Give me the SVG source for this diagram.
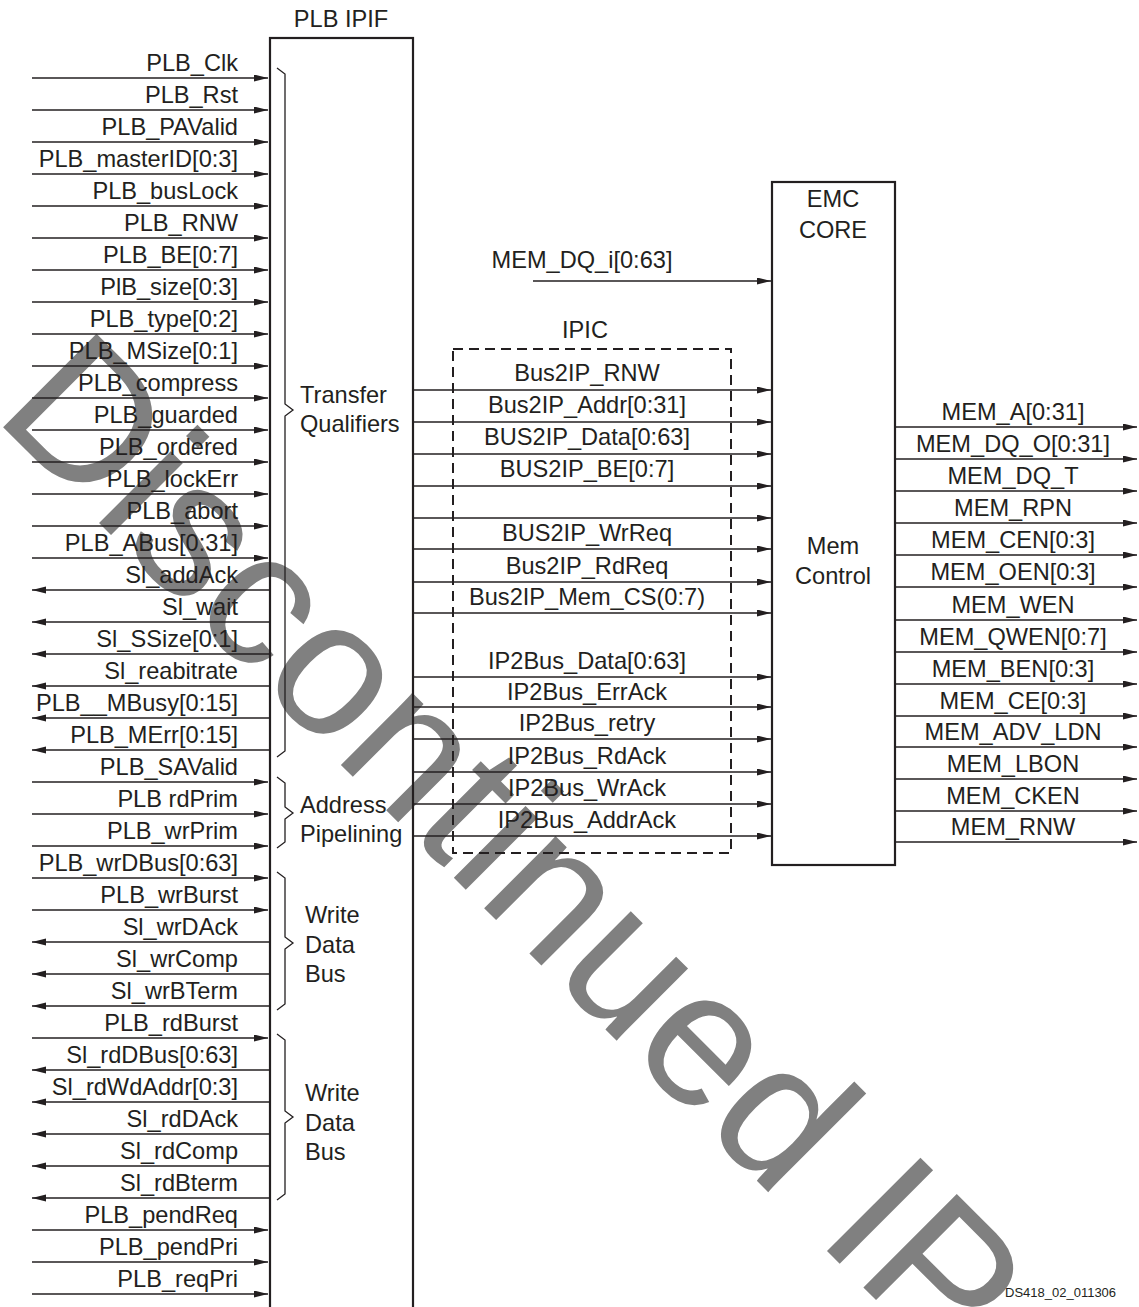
<svg xmlns="http://www.w3.org/2000/svg" width="1139" height="1307" viewBox="0 0 1139 1307">
<style>
text{font-family:"Liberation Sans",Arial,sans-serif;font-size:23.6px;fill:#231f20}
.r{text-anchor:end}
.c{text-anchor:middle}
.w{stroke:#231f20;stroke-width:1.4;fill:none}
.box{stroke:#231f20;stroke-width:2.2;fill:none}
.br{stroke:#231f20;stroke-width:1.3;fill:none}
.dash{stroke:#231f20;stroke-width:2;fill:none;stroke-dasharray:10,6}
.wm{font-size:192px;fill:#808080}
.fig{font-size:13px}
</style>
<defs>
<marker id="a" markerUnits="userSpaceOnUse" markerWidth="15" markerHeight="8" refX="14" refY="3.5" orient="auto">
<path d="M0,0 L14,3.5 L0,7 z" fill="#231f20"/>
</marker>
</defs>
<rect width="1139" height="1307" fill="#fff"/>
<g id="watermark">
<text class="wm" transform="translate(-8,416) rotate(45)">Discontinued IP</text>
</g>
<g id="plb-ipif">
<rect class="box" x="270" y="38" width="143" height="1290"/>
<text class="c" x="341" y="27">PLB IPIF</text>
<path class="br" d="M277,68 L285,74 L285,404 L293,410 L285,416 L285,751 L277,757"/>
<text x="300" y="403">Transfer</text>
<text x="300" y="432">Qualifiers</text>
<path class="br" d="M277,777 L285,783 L285,807 L293,813 L285,819 L285,842 L277,848"/>
<text x="300" y="813">Address</text>
<text x="300" y="842">Pipelining</text>
<path class="br" d="M277,872 L285,878 L285,937 L293,943 L285,949 L285,1004 L277,1010"/>
<text x="305" y="923">Write</text>
<text x="305" y="953">Data</text>
<text x="305" y="982">Bus</text>
<path class="br" d="M277,1034 L285,1040 L285,1111 L293,1117 L285,1123 L285,1194 L277,1200"/>
<text x="305" y="1101">Write</text>
<text x="305" y="1131">Data</text>
<text x="305" y="1160">Bus</text>
</g>
<g id="emc-core">
<rect class="box" x="772" y="182" width="123" height="683"/>
<text class="c" x="833" y="207">EMC</text>
<text class="c" x="833" y="238">CORE</text>
<text class="c" x="833" y="554">Mem</text>
<text class="c" x="833" y="584">Control</text>
</g>
<g id="ipic">
<rect class="dash" x="453" y="349" width="278" height="504"/>
<text class="c" x="585" y="338">IPIC</text>
</g>
<g id="connectors">
<line class="w" x1="32" y1="78" x2="268" y2="78" marker-end="url(#a)"/>
<line class="w" x1="32" y1="110" x2="268" y2="110" marker-end="url(#a)"/>
<line class="w" x1="32" y1="142" x2="268" y2="142" marker-end="url(#a)"/>
<line class="w" x1="32" y1="174" x2="268" y2="174" marker-end="url(#a)"/>
<line class="w" x1="32" y1="206" x2="268" y2="206" marker-end="url(#a)"/>
<line class="w" x1="32" y1="238" x2="268" y2="238" marker-end="url(#a)"/>
<line class="w" x1="32" y1="270" x2="268" y2="270" marker-end="url(#a)"/>
<line class="w" x1="32" y1="302" x2="268" y2="302" marker-end="url(#a)"/>
<line class="w" x1="32" y1="334" x2="268" y2="334" marker-end="url(#a)"/>
<line class="w" x1="32" y1="366" x2="268" y2="366" marker-end="url(#a)"/>
<line class="w" x1="32" y1="398" x2="268" y2="398" marker-end="url(#a)"/>
<line class="w" x1="32" y1="430" x2="268" y2="430" marker-end="url(#a)"/>
<line class="w" x1="32" y1="462" x2="268" y2="462" marker-end="url(#a)"/>
<line class="w" x1="32" y1="494" x2="268" y2="494" marker-end="url(#a)"/>
<line class="w" x1="32" y1="526" x2="268" y2="526" marker-end="url(#a)"/>
<line class="w" x1="32" y1="558" x2="268" y2="558" marker-end="url(#a)"/>
<line class="w" x1="270" y1="590" x2="32" y2="590" marker-end="url(#a)"/>
<line class="w" x1="270" y1="622" x2="32" y2="622" marker-end="url(#a)"/>
<line class="w" x1="270" y1="654" x2="32" y2="654" marker-end="url(#a)"/>
<line class="w" x1="270" y1="686" x2="32" y2="686" marker-end="url(#a)"/>
<line class="w" x1="270" y1="718" x2="32" y2="718" marker-end="url(#a)"/>
<line class="w" x1="270" y1="750" x2="32" y2="750" marker-end="url(#a)"/>
<line class="w" x1="32" y1="782" x2="268" y2="782" marker-end="url(#a)"/>
<line class="w" x1="32" y1="814" x2="268" y2="814" marker-end="url(#a)"/>
<line class="w" x1="32" y1="846" x2="268" y2="846" marker-end="url(#a)"/>
<line class="w" x1="32" y1="878" x2="268" y2="878" marker-end="url(#a)"/>
<line class="w" x1="32" y1="910" x2="268" y2="910" marker-end="url(#a)"/>
<line class="w" x1="270" y1="942" x2="32" y2="942" marker-end="url(#a)"/>
<line class="w" x1="270" y1="974" x2="32" y2="974" marker-end="url(#a)"/>
<line class="w" x1="270" y1="1006" x2="32" y2="1006" marker-end="url(#a)"/>
<line class="w" x1="32" y1="1038" x2="268" y2="1038" marker-end="url(#a)"/>
<line class="w" x1="270" y1="1070" x2="32" y2="1070" marker-end="url(#a)"/>
<line class="w" x1="270" y1="1102" x2="32" y2="1102" marker-end="url(#a)"/>
<line class="w" x1="270" y1="1134" x2="32" y2="1134" marker-end="url(#a)"/>
<line class="w" x1="270" y1="1166" x2="32" y2="1166" marker-end="url(#a)"/>
<line class="w" x1="270" y1="1198" x2="32" y2="1198" marker-end="url(#a)"/>
<line class="w" x1="32" y1="1230" x2="268" y2="1230" marker-end="url(#a)"/>
<line class="w" x1="32" y1="1262" x2="268" y2="1262" marker-end="url(#a)"/>
<line class="w" x1="32" y1="1294" x2="268" y2="1294" marker-end="url(#a)"/>
<line class="w" x1="533" y1="281" x2="771" y2="281" marker-end="url(#a)"/>
<line class="w" x1="414" y1="390" x2="771" y2="390" marker-end="url(#a)"/>
<line class="w" x1="414" y1="422" x2="771" y2="422" marker-end="url(#a)"/>
<line class="w" x1="414" y1="454" x2="771" y2="454" marker-end="url(#a)"/>
<line class="w" x1="414" y1="486" x2="771" y2="486" marker-end="url(#a)"/>
<line class="w" x1="414" y1="518" x2="771" y2="518" marker-end="url(#a)"/>
<line class="w" x1="414" y1="549" x2="771" y2="549" marker-end="url(#a)"/>
<line class="w" x1="414" y1="582" x2="771" y2="582" marker-end="url(#a)"/>
<line class="w" x1="414" y1="613" x2="771" y2="613" marker-end="url(#a)"/>
<line class="w" x1="414" y1="677" x2="771" y2="677" marker-end="url(#a)"/>
<line class="w" x1="414" y1="707" x2="771" y2="707" marker-end="url(#a)"/>
<line class="w" x1="414" y1="739" x2="771" y2="739" marker-end="url(#a)"/>
<line class="w" x1="414" y1="772" x2="771" y2="772" marker-end="url(#a)"/>
<line class="w" x1="414" y1="804" x2="771" y2="804" marker-end="url(#a)"/>
<line class="w" x1="414" y1="836" x2="771" y2="836" marker-end="url(#a)"/>
<line class="w" x1="895" y1="427" x2="1137" y2="427" marker-end="url(#a)"/>
<line class="w" x1="895" y1="459" x2="1137" y2="459" marker-end="url(#a)"/>
<line class="w" x1="895" y1="491" x2="1137" y2="491" marker-end="url(#a)"/>
<line class="w" x1="895" y1="523" x2="1137" y2="523" marker-end="url(#a)"/>
<line class="w" x1="895" y1="555" x2="1137" y2="555" marker-end="url(#a)"/>
<line class="w" x1="895" y1="587" x2="1137" y2="587" marker-end="url(#a)"/>
<line class="w" x1="895" y1="620" x2="1137" y2="620" marker-end="url(#a)"/>
<line class="w" x1="895" y1="652" x2="1137" y2="652" marker-end="url(#a)"/>
<line class="w" x1="895" y1="684" x2="1137" y2="684" marker-end="url(#a)"/>
<line class="w" x1="895" y1="716" x2="1137" y2="716" marker-end="url(#a)"/>
<line class="w" x1="895" y1="747" x2="1137" y2="747" marker-end="url(#a)"/>
<line class="w" x1="895" y1="779" x2="1137" y2="779" marker-end="url(#a)"/>
<line class="w" x1="895" y1="811" x2="1137" y2="811" marker-end="url(#a)"/>
<line class="w" x1="895" y1="842" x2="1137" y2="842" marker-end="url(#a)"/>
</g>
<g id="signal-labels">
<text class="r" x="238" y="71">PLB_Clk</text>
<text class="r" x="238" y="103">PLB_Rst</text>
<text class="r" x="238" y="135">PLB_PAValid</text>
<text class="r" x="238" y="167">PLB_masterID[0:3]</text>
<text class="r" x="238" y="199">PLB_busLock</text>
<text class="r" x="238" y="231">PLB_RNW</text>
<text class="r" x="238" y="263">PLB_BE[0:7]</text>
<text class="r" x="238" y="295">PlB_size[0:3]</text>
<text class="r" x="238" y="327">PLB_type[0:2]</text>
<text class="r" x="238" y="359">PLB_MSize[0:1]</text>
<text class="r" x="238" y="391">PLB_compress</text>
<text class="r" x="238" y="423">PLB_guarded</text>
<text class="r" x="238" y="455">PLB_ordered</text>
<text class="r" x="238" y="487">PLB_lockErr</text>
<text class="r" x="238" y="519">PLB_abort</text>
<text class="r" x="238" y="551">PLB_ABus[0:31]</text>
<text class="r" x="238" y="583">Sl_addAck</text>
<text class="r" x="238" y="615">Sl_wait</text>
<text class="r" x="238" y="647">Sl_SSize[0:1]</text>
<text class="r" x="238" y="679">Sl_reabitrate</text>
<text class="r" x="238" y="711">PLB__MBusy[0:15]</text>
<text class="r" x="238" y="743">PLB_MErr[0:15]</text>
<text class="r" x="238" y="775">PLB_SAValid</text>
<text class="r" x="238" y="807">PLB rdPrim</text>
<text class="r" x="238" y="839">PLB_wrPrim</text>
<text class="r" x="238" y="871">PLB_wrDBus[0:63]</text>
<text class="r" x="238" y="903">PLB_wrBurst</text>
<text class="r" x="238" y="935">Sl_wrDAck</text>
<text class="r" x="238" y="967">Sl_wrComp</text>
<text class="r" x="238" y="999">Sl_wrBTerm</text>
<text class="r" x="238" y="1031">PLB_rdBurst</text>
<text class="r" x="238" y="1063">Sl_rdDBus[0:63]</text>
<text class="r" x="238" y="1095">Sl_rdWdAddr[0:3]</text>
<text class="r" x="238" y="1127">Sl_rdDAck</text>
<text class="r" x="238" y="1159">Sl_rdComp</text>
<text class="r" x="238" y="1191">Sl_rdBterm</text>
<text class="r" x="238" y="1223">PLB_pendReq</text>
<text class="r" x="238" y="1255">PLB_pendPri</text>
<text class="r" x="238" y="1287">PLB_reqPri</text>
<text class="c" x="582" y="268">MEM_DQ_i[0:63]</text>
<text class="c" x="587" y="381">Bus2IP_RNW</text>
<text class="c" x="587" y="413">Bus2IP_Addr[0:31]</text>
<text class="c" x="587" y="445">BUS2IP_Data[0:63]</text>
<text class="c" x="587" y="477">BUS2IP_BE[0:7]</text>
<text class="c" x="587" y="541">BUS2IP_WrReq</text>
<text class="c" x="587" y="574">Bus2IP_RdReq</text>
<text class="c" x="587" y="605">Bus2IP_Mem_CS(0:7)</text>
<text class="c" x="587" y="669">IP2Bus_Data[0:63]</text>
<text class="c" x="587" y="700">IP2Bus_ErrAck</text>
<text class="c" x="587" y="731">IP2Bus_retry</text>
<text class="c" x="587" y="764">IP2Bus_RdAck</text>
<text class="c" x="587" y="796">IP2Bus_WrAck</text>
<text class="c" x="587" y="828">IP2Bus_AddrAck</text>
<text class="c" x="1013" y="420">MEM_A[0:31]</text>
<text class="c" x="1013" y="452">MEM_DQ_O[0:31]</text>
<text class="c" x="1013" y="484">MEM_DQ_T</text>
<text class="c" x="1013" y="516">MEM_RPN</text>
<text class="c" x="1013" y="548">MEM_CEN[0:3]</text>
<text class="c" x="1013" y="580">MEM_OEN[0:3]</text>
<text class="c" x="1013" y="613">MEM_WEN</text>
<text class="c" x="1013" y="645">MEM_QWEN[0:7]</text>
<text class="c" x="1013" y="677">MEM_BEN[0:3]</text>
<text class="c" x="1013" y="709">MEM_CE[0:3]</text>
<text class="c" x="1013" y="740">MEM_ADV_LDN</text>
<text class="c" x="1013" y="772">MEM_LBON</text>
<text class="c" x="1013" y="804">MEM_CKEN</text>
<text class="c" x="1013" y="835">MEM_RNW</text>
<text class="fig" x="1005" y="1297">DS418_02_011306</text>
</g>
</svg>
